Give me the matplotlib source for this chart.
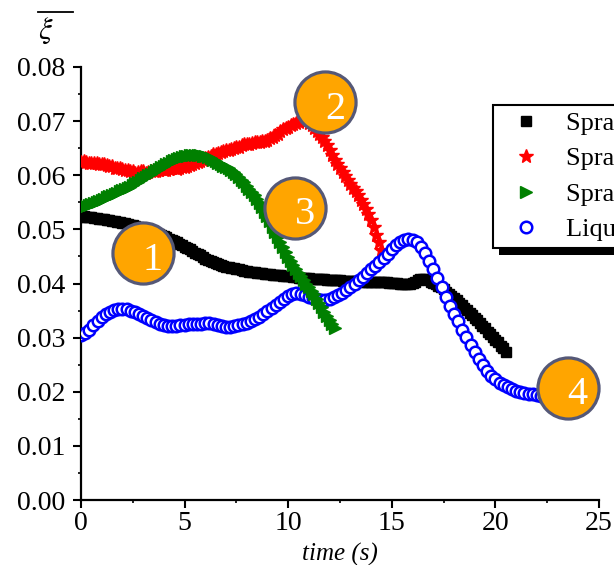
import numpy as np
import matplotlib
matplotlib.use("Agg")
import matplotlib.pyplot as plt
from matplotlib.lines import Line2D
from matplotlib.patches import Rectangle
from matplotlib.ticker import MultipleLocator

plt.rcParams['font.family'] = ['Liberation Serif', 'DejaVu Serif']
plt.rcParams['mathtext.fontset'] = 'stix'

# sampling steps of the recorded series (s)
DT = 0.125
DT_LIQUID = 0.2

spray1 = [
    0.0523, 0.0524, 0.0523, 0.0522, 0.0522, 0.0521, 0.0521, 0.0520, 0.0519, 0.0519,
    0.0518, 0.0517, 0.0516, 0.0515, 0.0514, 0.0513, 0.0512, 0.0511, 0.0510, 0.0509,
    0.0508, 0.0506, 0.0505, 0.0503, 0.0502, 0.0500, 0.0499, 0.0497, 0.0495, 0.0493,
    0.0491, 0.0489, 0.0487, 0.0485, 0.0483, 0.0481, 0.0478, 0.0476, 0.0473, 0.0471,
    0.0468, 0.0466, 0.0463, 0.0460, 0.0457, 0.0455, 0.0452, 0.0449, 0.0446, 0.0443,
    0.0441, 0.0439, 0.0437, 0.0436, 0.0434, 0.0432, 0.0431, 0.0430, 0.0429, 0.0428,
    0.0427, 0.0426, 0.0425, 0.0424, 0.0423, 0.0422, 0.0421, 0.0421, 0.0420, 0.0420,
    0.0419, 0.0418, 0.0418, 0.0417, 0.0416, 0.0416, 0.0415, 0.0415, 0.0414, 0.0414,
    0.0413, 0.0413, 0.0412, 0.0412, 0.0411, 0.0411, 0.0410, 0.0410, 0.0410, 0.0409,
    0.0409, 0.0409, 0.0408, 0.0408, 0.0408, 0.0407, 0.0407, 0.0407, 0.0406, 0.0406,
    0.0406, 0.0405, 0.0405, 0.0405, 0.0405, 0.0404, 0.0404, 0.0404, 0.0404, 0.0403,
    0.0403, 0.0403, 0.0403, 0.0403, 0.0403, 0.0402, 0.0402, 0.0402, 0.0402, 0.0401,
    0.0401, 0.0401, 0.0401, 0.0400, 0.0400, 0.0399, 0.0399, 0.0399, 0.0401, 0.0403,
    0.0406, 0.0408, 0.0409, 0.0408, 0.0406, 0.0403, 0.0401, 0.0399, 0.0396, 0.0393,
    0.0389, 0.0385, 0.0381, 0.0377, 0.0373, 0.0369, 0.0364, 0.0360, 0.0355, 0.0351,
    0.0346, 0.0342, 0.0337, 0.0332, 0.0327, 0.0322, 0.0317, 0.0311, 0.0306, 0.0301,
    0.0296, 0.0291, 0.0285, 0.0280, 0.0274,
]

spray2 = [
    0.0624, 0.0626, 0.0625, 0.0622, 0.0623, 0.0623, 0.0622, 0.0620, 0.0620, 0.0620,
    0.0619, 0.0617, 0.0617, 0.0614, 0.0613, 0.0613, 0.0611, 0.0609, 0.0609, 0.0608,
    0.0607, 0.0605, 0.0606, 0.0608, 0.0607, 0.0605, 0.0606, 0.0608, 0.0608, 0.0607,
    0.0609, 0.0611, 0.0610, 0.0610, 0.0612, 0.0614, 0.0613, 0.0612, 0.0614, 0.0615,
    0.0616, 0.0618, 0.0619, 0.0620, 0.0622, 0.0625, 0.0627, 0.0629, 0.0632, 0.0634,
    0.0636, 0.0639, 0.0640, 0.0641, 0.0643, 0.0645, 0.0646, 0.0647, 0.0649, 0.0651,
    0.0652, 0.0653, 0.0655, 0.0657, 0.0657, 0.0658, 0.0659, 0.0661, 0.0661, 0.0662,
    0.0663, 0.0664, 0.0666, 0.0668, 0.0670, 0.0674, 0.0677, 0.0682, 0.0685, 0.0687,
    0.0690, 0.0693, 0.0694, 0.0697, 0.0699, 0.0702, 0.0702, 0.0700, 0.0697, 0.0693,
    0.0688, 0.0682, 0.0676, 0.0670, 0.0663, 0.0655, 0.0646, 0.0637, 0.0628, 0.0620,
    0.0613, 0.0606, 0.0598, 0.0591, 0.0584, 0.0577, 0.0570, 0.0563, 0.0555, 0.0547,
    0.0538, 0.0529, 0.0518, 0.0505, 0.0490, 0.0476, 0.0462,
]

spray3 = [
    0.0540, 0.0542, 0.0543, 0.0545, 0.0547, 0.0549, 0.0551, 0.0553, 0.0555, 0.0557,
    0.0559, 0.0561, 0.0563, 0.0565, 0.0567, 0.0570, 0.0572, 0.0574, 0.0577, 0.0579,
    0.0582, 0.0585, 0.0588, 0.0591, 0.0594, 0.0597, 0.0600, 0.0603, 0.0606, 0.0609,
    0.0612, 0.0615, 0.0618, 0.0621, 0.0623, 0.0626, 0.0628, 0.0630, 0.0632, 0.0634,
    0.0635, 0.0636, 0.0637, 0.0638, 0.0638, 0.0638, 0.0637, 0.0636, 0.0635, 0.0633,
    0.0631, 0.0628, 0.0626, 0.0623, 0.0620, 0.0618, 0.0615, 0.0613, 0.0610, 0.0606,
    0.0602, 0.0597, 0.0592, 0.0587, 0.0581, 0.0575, 0.0569, 0.0563, 0.0556, 0.0549,
    0.0541, 0.0533, 0.0524, 0.0515, 0.0505, 0.0496, 0.0486, 0.0476, 0.0467, 0.0458,
    0.0449, 0.0441, 0.0434, 0.0427, 0.0420, 0.0413, 0.0406, 0.0400, 0.0394, 0.0387,
    0.0380, 0.0372, 0.0364, 0.0356, 0.0348, 0.0340, 0.0332, 0.0325, 0.0318,
]

liquid = [
    0.0305, 0.0309, 0.0315, 0.0323, 0.0331, 0.0338, 0.0344, 0.0348, 0.0351, 0.0352,
    0.0352, 0.0352, 0.0350, 0.0348, 0.0344, 0.0340, 0.0336, 0.0332, 0.0328, 0.0325,
    0.0323, 0.0322, 0.0322, 0.0322, 0.0323, 0.0324, 0.0325, 0.0325, 0.0325, 0.0326,
    0.0327, 0.0327, 0.0326, 0.0324, 0.0321, 0.0319, 0.0319, 0.0321, 0.0323, 0.0325,
    0.0327, 0.0330, 0.0334, 0.0338, 0.0343, 0.0349, 0.0355, 0.0361, 0.0366, 0.0371,
    0.0376, 0.0380, 0.0382, 0.0381, 0.0378, 0.0375, 0.0373, 0.0371, 0.0370, 0.0370,
    0.0372, 0.0375, 0.0379, 0.0383, 0.0388, 0.0394, 0.0400, 0.0406, 0.0412, 0.0419,
    0.0426, 0.0433, 0.0440, 0.0447, 0.0455, 0.0463, 0.0471, 0.0477, 0.0481, 0.0483,
    0.0481, 0.0476, 0.0468, 0.0456, 0.0442, 0.0427, 0.0411, 0.0393, 0.0375, 0.0359,
    0.0344, 0.0330, 0.0315, 0.0301, 0.0287, 0.0274, 0.0261, 0.0249, 0.0239, 0.0230,
    0.0223, 0.0217, 0.0212, 0.0208, 0.0205, 0.0202, 0.0200, 0.0198, 0.0196, 0.0195,
    0.0194, 0.0193, 0.0192, 0.0192,
]

labels = ['Spray 1', 'Spray 2', 'Spray 3', 'Liquid film']

# numbered stage markers: (label, t, value)
stages = [('1', 3.0, 0.0456), ('2', 11.8, 0.0735), ('3', 10.35, 0.0540), ('4', 23.5, 0.0207)]

t1 = np.arange(len(spray1)) * DT
t2 = np.arange(len(spray2)) * DT
t3 = np.arange(len(spray3)) * DT
t4 = np.arange(len(liquid)) * DT_LIQUID

W, H = 614, 565
fig = plt.figure(figsize=(W / 100, H / 100), dpi=100)
ax = fig.add_axes([81 / W, 1 - 500 / H, (599 - 81) / W, (500 - 67) / H])

l1, = ax.plot(t1, spray1, ls='none', marker='s', ms=7, color='black', mec='black', zorder=2)
l2, = ax.plot(t2, spray2, ls='none', marker='*', ms=10, color='red', mec='red', zorder=3)
l4, = ax.plot(t4, liquid, ls='none', marker='o', ms=8.3, mfc='white', mec='blue', mew=1.8, zorder=4)
l3, = ax.plot(t3, spray3, ls='none', marker='>', ms=9, color='green', mec='green', zorder=5)

for num, tx, vy in stages:
    ax.plot(tx, vy, marker='o', ms=44, mfc='#FFA500', mec='#555877', mew=2.3,
            zorder=10, clip_on=False)
    ax.annotate(num, (tx, vy), xytext=(7, -5), textcoords='offset points',
                ha='center', va='center', color='white', fontsize=29, zorder=11)

ax.set_xlim(0, 25)
ax.set_ylim(0, 0.08)
ax.xaxis.set_major_locator(MultipleLocator(5))
ax.xaxis.set_minor_locator(MultipleLocator(2.5))
ax.yaxis.set_major_locator(MultipleLocator(0.01))
ax.yaxis.set_minor_locator(MultipleLocator(0.005))
ax.yaxis.set_major_formatter(plt.FormatStrFormatter('%.2f'))

for side in ('top', 'right'):
    ax.spines[side].set_visible(False)
for side in ('left', 'bottom'):
    ax.spines[side].set_linewidth(1.6)
ax.tick_params(which='major', direction='out', length=6, width=1.5, labelsize=20)
ax.tick_params(axis='x', which='major', pad=2)
ax.tick_params(axis='y', which='major', pad=5)
ax.tick_params(which='minor', direction='out', length=2.5, width=1.2)

ax.set_xlabel('time (s)', fontsize=18, style='italic', labelpad=5)

# y label: xi with a long overbar above the axis
fig.text(38 / W, 1 - 31 / H, r'$\xi$', fontsize=22, ha='left', va='center')
fig.add_artist(Line2D([38 / W, 73 / W], [1 - 12 / H, 1 - 12 / H], color='black', lw=1.3))

leg = fig.legend([l1, l2, l3, l4], labels, loc='upper left', bbox_to_anchor=(493 / W, 1 - 105 / H),
                 bbox_transform=fig.transFigure, fontsize=19, frameon=True, fancybox=False,
                 framealpha=1, borderpad=0.25, handlelength=2.0, handletextpad=0.5,
                 labelspacing=0.45, borderaxespad=0)
leg.get_frame().set_edgecolor('black')
leg.get_frame().set_linewidth(1.5)
leg.set_zorder(20)

# solid black drop shadow under the legend frame
fig.canvas.draw()
bb = leg.get_frame().get_window_extent()
shadow = Rectangle((bb.x0 + 6, bb.y0 - 7), bb.width, bb.height, transform=None,
                   facecolor='black', edgecolor='none', zorder=19)
fig.add_artist(shadow)

fig.savefig('out.png', dpi=100)
